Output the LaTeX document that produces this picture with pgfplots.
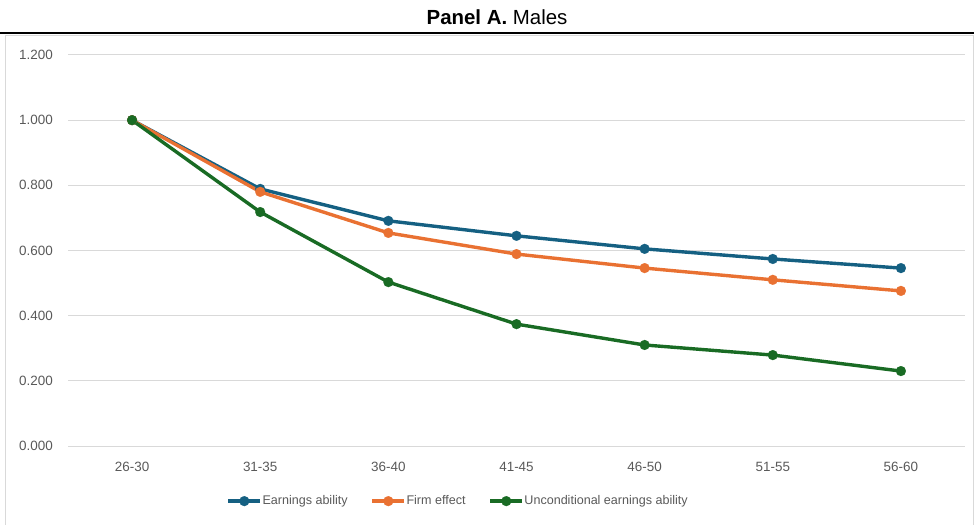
\documentclass[border=0pt]{standalone}
\usepackage{pgfplots}
\pgfplotsset{compat=1.18}
\usepackage{fontspec}
\setmainfont{Liberation Sans}
\definecolor{cblue}{HTML}{156082}
\definecolor{corange}{HTML}{E97132}
\definecolor{cgreen}{HTML}{196B24}
\definecolor{ctext}{HTML}{595959}
\definecolor{cgrid}{HTML}{D9D9D9}
\pgfplotsset{
  ser/.style={color=#1, line width=3.4bp, mark=*, mark size=5bp,
    mark options={solid, fill=#1, draw=#1, line width=0.1bp}},
}
\begin{document}
\begin{tikzpicture}
\path[use as bounding box] (0,0) rectangle (974bp,525bp);
\draw[cgrid, line width=1bp] (5.5bp,-2bp) -- (5.5bp,489bp) -- (973.5bp,489bp) -- (973.5bp,-2bp);
\draw[black, line width=2bp] (0,492bp) -- (974bp,492bp);
\node[font=\fontsize{20.5}{24}\selectfont, text=black] at (497bp,508bp) {\textbf{Panel A.} Males};
\begin{axis}[
  at={(68bp,79bp)}, anchor=south west,
  scale only axis, width=897bp, height=391bp,
  xmin=-0.5, xmax=6.5, ymin=0, ymax=1.2,
  xtick={0,1,2,3,4,5,6},
  xticklabels={26-30,31-35,36-40,41-45,46-50,51-55,56-60},
  ytick={0,0.2,0.4,0.6,0.8,1.0,1.2},
  ymajorgrids, grid style={cgrid, line width=1bp},
  axis line style={draw=none},
  major tick length=0pt,
  tick label style={font=\fontsize{13.5}{15}\selectfont, text=ctext},
  yticklabel style={inner sep=0pt, anchor=east, xshift=-15bp},
  xticklabel style={inner sep=0pt, anchor=north, yshift=-16bp},
  /pgf/number format/assume math mode=true,
  yticklabel={\pgfmathprintnumber[fixed, fixed zerofill, precision=3]{\tick}},
  legend columns=3,
  legend style={at={(0.435,-0.141)}, anchor=center, draw=none, fill=none,
    font=\fontsize{12.6}{15}\selectfont, text=ctext,
    /tikz/every even column/.append style={column sep=21bp},
    /tikz/every odd column/.append style={column sep=-1.5bp}},
  legend image code/.code={\draw[mark repeat=2, mark phase=2, #1] plot coordinates {(0bp,0bp)(16bp,0bp)(32bp,0bp)};},
  clip=false,
]
\addplot[ser=cblue] coordinates {
(0,1.000) (1,0.789) (2,0.691) (3,0.645) (4,0.605) (5,0.574) (6,0.546)};
\addlegendentry{Earnings ability}
\addplot[ser=corange] coordinates {
(0,1.000) (1,0.780) (2,0.654) (3,0.589) (4,0.546) (5,0.510) (6,0.476)};
\addlegendentry{Firm effect}
\addplot[ser=cgreen] coordinates {
(0,1.000) (1,0.718) (2,0.503) (3,0.374) (4,0.310) (5,0.279) (6,0.230)};
\addlegendentry{Unconditional earnings ability}
\end{axis}
\end{tikzpicture}
\end{document}
